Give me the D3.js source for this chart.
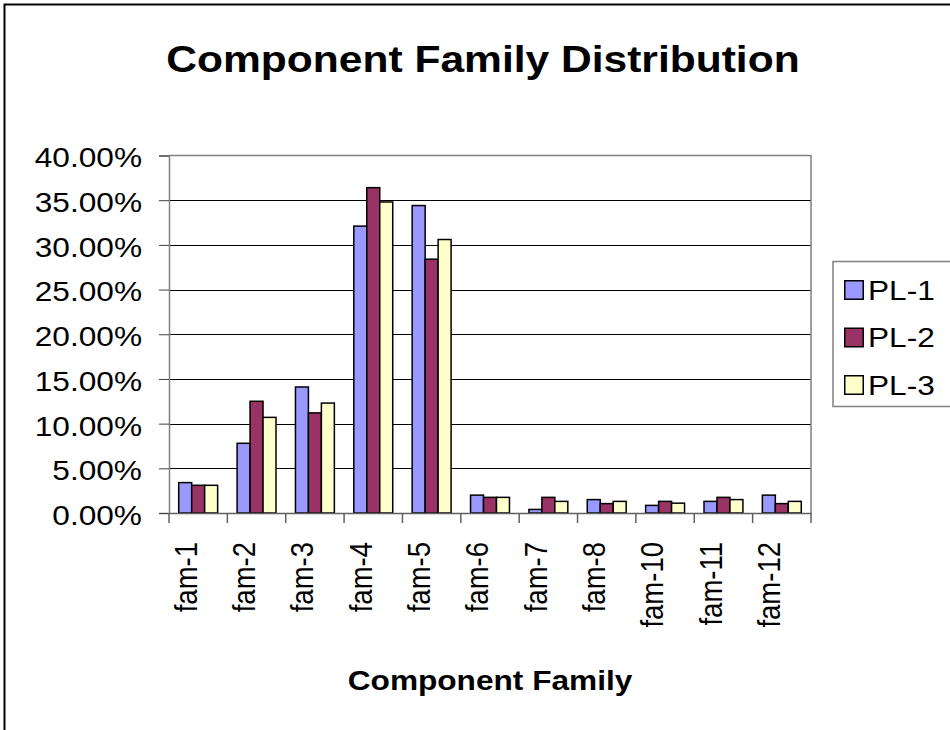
<!DOCTYPE html>
<html>
<head>
<meta charset="utf-8">
<script src="https://cdn.jsdelivr.net/npm/d3@7"></script>
<style>
  html, body { margin: 0; padding: 0; background: #fff; }
  svg { display: block; font-family: "Liberation Sans", Arial, sans-serif; }
</style>
</head>
<body>
<svg id="chart" width="950" height="730"></svg>
<script>
// Component family categories and share per product line (percent)
const families = ["fam-1", "fam-2", "fam-3", "fam-4", "fam-5", "fam-6", "fam-7", "fam-8", "fam-10", "fam-11", "fam-12"];
const seriesNames = ["PL-1", "PL-2", "PL-3"];
const pl1 = [3.4, 7.8, 14.1, 32.1, 34.4, 2.0, 0.4, 1.5, 0.85, 1.3, 2.0];
const pl2 = [3.1, 12.5, 11.2, 36.4, 28.4, 1.75, 1.75, 1.05, 1.3, 1.75, 1.05];
const pl3 = [3.1, 10.7, 12.3, 34.8, 30.6, 1.75, 1.3, 1.3, 1.1, 1.5, 1.3];
const yTicks = [0, 5, 10, 15, 20, 25, 30, 35, 40];
const seriesColors = ["#9999FF", "#993366", "#FFFFCC"];

const seriesValues = [pl1, pl2, pl3];
const sx = 1.15; // horizontal glyph stretch of the chart's text

const svg = d3.select("#chart");

// Chart area frame (extends past the right and bottom edges)
svg.append("rect")
  .attr("x", 4.5).attr("y", 4.5)
  .attr("width", 1200).attr("height", 1200)
  .attr("fill", "#fff").attr("stroke", "#000").attr("stroke-width", 2);

const plot = { left: 169, right: 811, top: 155.5, bottom: 513 };

const x = d3.scaleBand()
  .domain(families)
  .range([plot.left, plot.right])
  .paddingInner(1 / 3)
  .paddingOuter(1 / 6);

const xs = d3.scaleBand()
  .domain(seriesNames)
  .range([0, x.bandwidth()]);

const y = d3.scaleLinear()
  .domain([0, 40])
  .range([plot.bottom, plot.top]);

// Gridlines
svg.append("g")
  .selectAll("line")
  .data(yTicks.filter(t => t > 0 && t < 40))
  .join("line")
  .attr("x1", plot.left).attr("x2", plot.right)
  .attr("y1", d => Math.round(y(d)) + 0.5).attr("y2", d => Math.round(y(d)) + 0.5)
  .attr("stroke", "#000").attr("stroke-width", 1);

// Plot area border (top and right)
svg.append("path")
  .attr("d", `M${plot.left},${plot.top}H${plot.right}V${plot.bottom}`)
  .attr("fill", "none").attr("stroke", "#808080").attr("stroke-width", 1.5);

// Bars
const rows = families.map((f, i) => ({ family: f, values: seriesNames.map((s, k) => ({ series: s, k, value: seriesValues[k][i] })) }));
svg.append("g")
  .selectAll("g")
  .data(rows)
  .join("g")
  .attr("transform", d => `translate(${x(d.family)},0)`)
  .selectAll("rect")
  .data(d => d.values)
  .join("rect")
  .attr("x", d => xs(d.series))
  .attr("y", d => y(d.value))
  .attr("width", xs.bandwidth())
  .attr("height", d => y(0) - y(d.value))
  .attr("fill", d => seriesColors[d.k])
  .attr("stroke", "#000").attr("stroke-width", 1.5);

// Y axis
const yAxis = svg.append("g")
  .attr("transform", `translate(${plot.left},0)`)
  .call(d3.axisLeft(y).tickValues(yTicks).tickSize(10).tickFormat(d => d3.format(".2f")(d) + "%"));
yAxis.select(".domain").attr("stroke", "#808080").attr("stroke-width", 1.5);
yAxis.selectAll(".tick line").attr("stroke", "#404040");
yAxis.selectAll(".tick text")
  .attr("x", null).attr("dy", "0.36em")
  .attr("transform", `translate(-27,1.5) scale(${sx},1)`)
  .attr("font-size", 27.5).attr("fill", "#000")
  .attr("font-family", "Liberation Sans, Arial, sans-serif");

// X axis with boundary ticks between categories
const xAxis = svg.append("g")
  .attr("transform", `translate(0,${plot.bottom})`)
  .call(d3.axisBottom(x).tickSize(0).tickPadding(0));
xAxis.select(".domain").attr("stroke", "#606060").attr("stroke-width", 1.5);
xAxis.selectAll(".tick text")
  .attr("y", null).attr("dy", "0.36em")
  .attr("text-anchor", "end")
  .attr("transform", `translate(-13,29) scale(${sx},1) rotate(-90)`)
  .attr("font-size", 27.5).attr("fill", "#000")
  .attr("font-family", "Liberation Sans, Arial, sans-serif");

const boundaries = families.map(f => x(f) - x.step() * x.paddingOuter()).concat([plot.right]);
xAxis.append("g")
  .selectAll("line")
  .data(boundaries)
  .join("line")
  .attr("x1", d => d).attr("x2", d => d)
  .attr("y1", 0).attr("y2", 10)
  .attr("stroke", "#606060").attr("stroke-width", 1.5);

// Title
svg.append("text")
  .attr("transform", `translate(483,72) scale(${sx},1)`)
  .attr("text-anchor", "middle")
  .attr("font-size", 37).attr("font-weight", "bold")
  .text("Component Family Distribution");

// Axis title
svg.append("text")
  .attr("transform", `translate(${(plot.left + plot.right) / 2},690) scale(${sx},1)`)
  .attr("text-anchor", "middle")
  .attr("font-size", 27.5).attr("font-weight", "bold")
  .text("Component Family");

// Legend
const legend = svg.append("g");
legend.append("rect")
  .attr("x", 833).attr("y", 261.5)
  .attr("width", 200).attr("height", 145)
  .attr("fill", "#fff").attr("stroke", "#808080").attr("stroke-width", 1.5);
const items = legend.selectAll("g.item")
  .data(seriesNames)
  .join("g").attr("class", "item")
  .attr("transform", (d, i) => `translate(844,${280 + i * 47.5})`);
items.append("rect")
  .attr("x", 0.75).attr("y", 0.75).attr("width", 18.5).attr("height", 18.5)
  .attr("fill", (d, i) => seriesColors[i])
  .attr("stroke", "#000").attr("stroke-width", 1.5);
items.append("text")
  .attr("transform", `translate(24,19.5) scale(${sx},1)`)
  .attr("font-size", 27.5)
  .text(d => d);
</script>
</body>
</html>
